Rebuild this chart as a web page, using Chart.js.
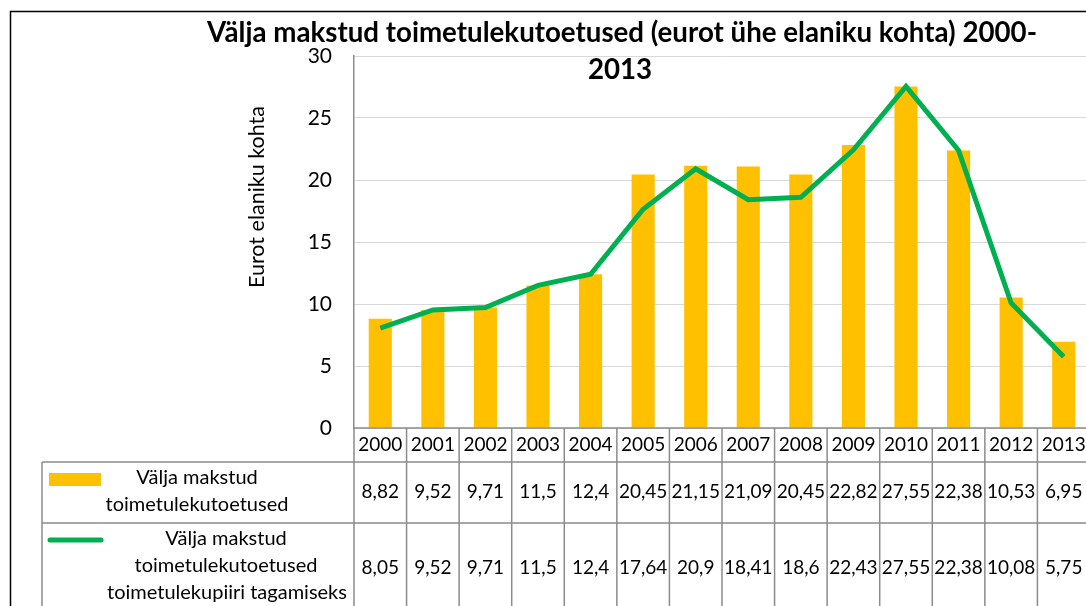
<!DOCTYPE html>
<html>
<head>
<meta charset="utf-8">
<script src="https://cdn.jsdelivr.net/npm/chart.js@4.4.0/dist/chart.umd.min.js"></script>
<style>
html, body { margin: 0; padding: 0; background: #fff; overflow: hidden; }
</style>
</head>
<body>
<canvas id="graph_toetused" width="1100" height="606"></canvas>
<script>
var years = ["2000","2001","2002","2003","2004","2005","2006","2007","2008","2009","2010","2011","2012","2013"];
var makstud = [8.82, 9.52, 9.71, 11.5, 12.4, 20.45, 21.15, 21.09, 20.45, 22.82, 27.55, 22.38, 10.53, 6.95];
var tagamiseks = [8.05, 9.52, 9.71, 11.5, 12.4, 17.64, 20.9, 18.41, 18.6, 22.43, 27.55, 22.38, 10.08, 5.75];
var nimiMakstud = ["Välja makstud", "toimetulekutoetused"];
var nimiTagamiseks = ["Välja makstud", "toimetulekutoetused", "toimetulekupiiri tagamiseks"];
var pealkiri = ["Välja makstud toimetulekutoetused (eurot ühe elaniku kohta) 2000-", "2013"];
var teljeNimi = "Eurot elaniku kohta";

var FONT = 'Lato, "Open Sans", sans-serif';
Chart.defaults.font.family = FONT;

function koma(v) { return String(v).replace('.', ','); }

// pealkiri, raam ja telje nimi
var raamPlugin = {
    id: 'raam',
    beforeDraw: function(chart) {
        var c = chart.ctx;
        c.save();
        c.fillStyle = '#fff';
        c.fillRect(0, 0, chart.width, chart.height);
        c.strokeStyle = '#000';
        c.lineWidth = 1.5;
        c.beginPath();
        c.moveTo(10.5, chart.height + 2);
        c.lineTo(10.5, 11.5);
        c.lineTo(chart.width + 2, 11.5);
        c.stroke();
        c.restore();
    },
    afterDraw: function(chart) {
        var c = chart.ctx;
        c.save();
        c.fillStyle = '#000';
        c.textAlign = 'center';
        c.textBaseline = 'middle';
        c.font = 'bold 27.7px ' + FONT;
        c.fillText(pealkiri[0], 622, 33);
        c.fillText(pealkiri[1], 620, 70);
        c.translate(257, 197);
        c.rotate(-Math.PI / 2);
        c.font = '21.5px ' + FONT;
        c.fillText(teljeNimi, 0, 0);
        c.restore();
    }
};

// andmetabel graafiku all
var tabelPlugin = {
    id: 'andmetabel',
    afterDraw: function(chart) {
        var c = chart.ctx, x = chart.scales.x, area = chart.chartArea;
        var w = x.getPixelForValue(1) - x.getPixelForValue(0);
        var left = x.getPixelForValue(0) - w / 2;
        var right = left + w * years.length;
        var top = area.bottom, r1 = top + 34, r2 = r1 + 61, end = chart.height + 2;
        var labelLeft = 42;
        c.save();
        c.strokeStyle = '#8c8c8c';
        c.lineWidth = 1.5;
        c.beginPath();
        c.moveTo(left, top); c.lineTo(right, top);
        c.moveTo(labelLeft, r1); c.lineTo(right, r1);
        c.moveTo(labelLeft, r2); c.lineTo(right, r2);
        c.moveTo(labelLeft, r1); c.lineTo(labelLeft, end);
        for (var i = 0; i <= years.length; i++) {
            c.moveTo(left + i * w, top);
            c.lineTo(left + i * w, end);
        }
        c.stroke();

        c.fillStyle = '#000';
        c.textAlign = 'center';
        c.textBaseline = 'middle';
        c.font = '19px ' + FONT;
        for (var j = 0; j < years.length; j++) {
            var cx = x.getPixelForValue(j);
            c.fillText(years[j], cx, top + 17);
            c.fillText(koma(makstud[j]), cx, r1 + 30);
            c.fillText(koma(tagamiseks[j]), cx, r2 + 45);
        }

        // legendi võtmed
        c.fillStyle = '#FFC000';
        c.fillRect(49, r1 + 11, 52, 13);
        c.strokeStyle = '#00B050';
        c.lineWidth = 5;
        c.lineCap = 'round';
        c.beginPath();
        c.moveTo(50, r2 + 17); c.lineTo(101, r2 + 17);
        c.stroke();

        c.fillStyle = '#000';
        c.font = '20px ' + FONT;
        c.fillText(nimiMakstud[0], 197, r1 + 16);
        c.fillText(nimiMakstud[1], 197, r1 + 43);
        c.fillText(nimiTagamiseks[0], 226, r2 + 16);
        c.fillText(nimiTagamiseks[1], 226, r2 + 43);
        c.fillText(nimiTagamiseks[2], 227, r2 + 70);
        c.restore();
    }
};

var ctx = document.getElementById("graph_toetused");

var myChart = new Chart(ctx, {
    type: 'bar',
    data: {
        labels: years,
        datasets: [{
            type: 'line',
            label: nimiTagamiseks.join(' '),
            data: tagamiseks,
            borderColor: '#00B050',
            borderWidth: 5,
            pointRadius: 0,
            tension: 0,
            order: 0
        }, {
            type: 'bar',
            label: nimiMakstud.join(' '),
            data: makstud,
            backgroundColor: '#FFC000',
            categoryPercentage: 1,
            barPercentage: 0.44,
            order: 1
        }]
    },
    options: {
        responsive: false,
        animation: false,
        layout: {
            padding: { left: 0, right: 10, top: 56, bottom: 178 }
        },
        plugins: {
            legend: { display: false },
            tooltip: { enabled: false }
        },
        scales: {
            x: {
                display: false
            },
            y: {
                min: 0,
                max: 30,
                afterFit: function(scale) { scale.width = 354; },
                ticks: {
                    stepSize: 5,
                    color: '#000',
                    padding: 22,
                    font: { size: 21 }
                },
                grid: {
                    color: '#D9D9D9',
                    drawTicks: false
                },
                border: { color: '#8c8c8c', width: 1.5 }
            }
        }
    },
    plugins: [raamPlugin, tabelPlugin]
});
</script>
</body>
</html>
